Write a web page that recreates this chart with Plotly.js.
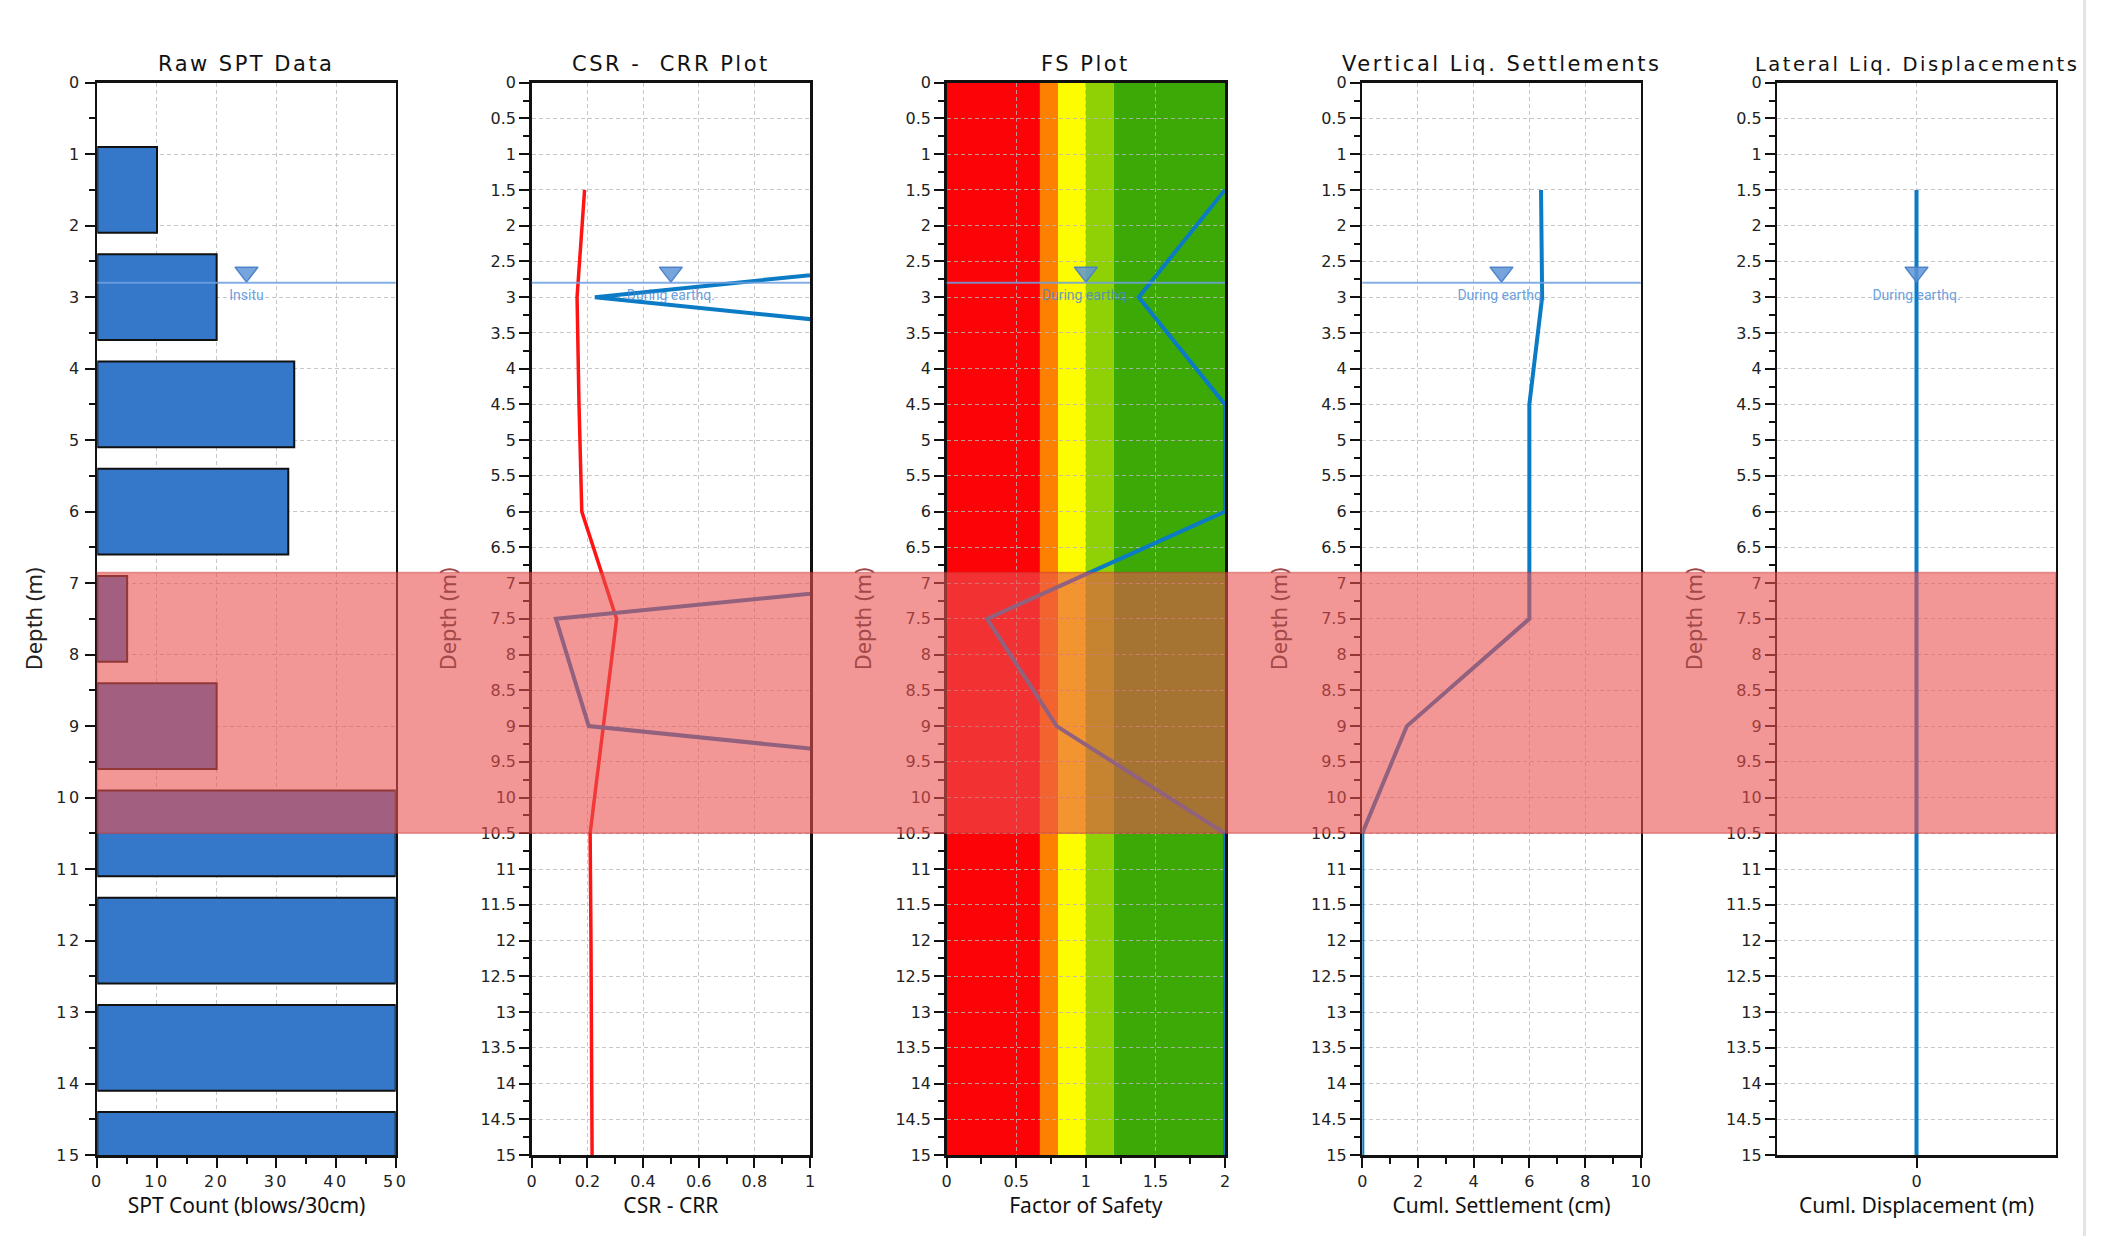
<!DOCTYPE html>
<html><head><meta charset="utf-8">
<script src="https://cdn.plot.ly/plotly-3.0.1.min.js"></script>
<style>
body{margin:0;background:#fff;}
#wrap{position:relative;width:2105px;height:1236px;overflow:hidden;background:#fff;}
#plot{position:absolute;left:0;top:0;width:2084px;height:1236px;}
.edge{position:absolute;top:0;width:3px;height:1236px;background:#e4e4e4;}
.xtick text,.ytick text{letter-spacing:2.5px;}
.annotation-text{letter-spacing:2.5px;}
</style></head>
<body>
<div id="wrap"><div class="edge" style="left:4px"></div><div id="plot"></div><div class="edge" style="left:2083px"></div></div>
<script>
// ---- data ----
const depth = [1.5, 3, 4.5, 6, 7.5, 9, 10.5, 12, 13.5, 15];
const sptCount = [10, 20, 33, 32, 5, 20, 50, 50, 50, 50];
const csr = [0.19, 0.163, 0.17, 0.18, 0.305, 0.258, 0.21, 0.213, 0.215, 0.217];
const crr = [4, 0.227, 4, 4, 0.087, 0.205, 4, 4, 4, 4];
const fs = [2, 1.38, 2, 2, 0.29, 0.79, 2, 2, 2, 2];
const settlement = [6.42, 6.46, 6.0, 6.0, 6.0, 1.6, 0, 0, 0, 0];
const displacement = [0, 0, 0, 0, 0, 0, 0, 0, 0, 0];
const waterDepth = 2.8;
const liqTop = 6.85, liqBottom = 10.5;
const fsBandEdges = [0, 0.67, 0.8, 1.0, 1.2, 2];
const fsBandColors = ['#fc0308', '#fe8002', '#fdfd00', '#8fd104', '#3ca907'];
const plotTitles = ['Raw SPT Data', 'CSR -  CRR Plot', 'FS Plot', 'Vertical Liq. Settlements', 'Lateral Liq. Displacements'];
const xTitles = ['SPT Count (blows/30cm)', 'CSR - CRR', 'Factor of Safety', 'Cuml. Settlement (cm)', 'Cuml. Displacement (m)'];
const waterLabels = ['Insitu', 'During earthq.', 'During earthq.', 'During earthq.', 'During earthq.'];
const waterLabelX = [25, 0.5, 1, 5, 0];
const xRanges = [[0, 50], [0, 1], [0, 2], [0, 10], [-1, 1]];
const xDticks = [10, 0.2, 0.5, 2, null];
const xMinor = [5, 0.1, 0.25, 1, null];

// ---- layout geometry (px) ----
const W = 2084, H = 1236;
const plotLeft = [97.3, 531.7, 946.7, 1362.3, 1777.3];
const plotRight = [395.7, 810, 1225, 1640.7, 2055.7];
const plotTop = 82.7, plotBottom = 1155;
const yDom = [1 - plotBottom / H, 1 - plotTop / H];
const triLift = 0.15, labelDrop = 0.1;
const titleSizes = [21, 21, 21, 21, 19.5];

const ink = '#111';
const gridCol = 'rgba(185,185,185,0.8)';
const tickFont = {family: 'DejaVu Sans', size: 16, color: '#222'};

const layout = {
  width: W, height: H, margin: {l: 0, r: 0, t: 0, b: 0},
  paper_bgcolor: '#fff', plot_bgcolor: '#fff', showlegend: false, hovermode: false,
  shapes: [], annotations: []
};

for (let i = 0; i < 5; i++) {
  const sx = i === 0 ? '' : String(i + 1);
  const xa = {
    domain: [plotLeft[i] / W, plotRight[i] / W], anchor: 'y' + sx,
    range: xRanges[i], autorange: false,
    showline: true, mirror: true, linecolor: ink, linewidth: 2.5,
    ticks: 'outside', ticklen: 10, tickwidth: 2, tickcolor: ink,
    showgrid: true, gridcolor: gridCol, griddash: '4px,3px', gridwidth: 1,
    zeroline: false, tickfont: tickFont,
    title: {text: xTitles[i], font: {family: 'Noto Sans', size: 21, color: '#111'}, standoff: 8}
  };
  if (xDticks[i] !== null) {
    xa.tick0 = 0; xa.dtick = xDticks[i];
    xa.minor = {dtick: xMinor[i], ticks: 'outside', ticklen: 6, tickwidth: 2, tickcolor: ink, showgrid: false};
  } else {
    xa.tickmode = 'array'; xa.tickvals = [0]; xa.ticktext = ['0'];
  }
  const ya = {
    domain: yDom, anchor: 'x' + sx, range: [15, 0], autorange: false,
    showline: true, mirror: true, linecolor: ink, linewidth: 2.5,
    ticks: 'outside', ticklen: 10, tickwidth: 2, tickcolor: ink,
    tick0: 0, dtick: i === 0 ? 1 : 0.5,
    minor: {dtick: i === 0 ? 0.5 : 0.25, ticks: 'outside', ticklen: 6, tickwidth: 2, tickcolor: ink, showgrid: false},
    showgrid: true, gridcolor: gridCol, griddash: '4px,3px', gridwidth: 1,
    zeroline: false, tickfont: tickFont,
    title: {text: 'Depth (m)', font: {family: 'Noto Sans', size: 22, color: i === 0 ? '#222' : '#a34848'}, standoff: i === 0 ? 8 : 18}
  };
  layout['xaxis' + sx] = xa;
  layout['yaxis' + sx] = ya;

  layout.annotations.push({
    xref: 'paper', yref: 'paper', x: (plotLeft[i] + plotRight[i]) / 2 / W, y: yDom[1],
    xanchor: 'center', yanchor: 'bottom', yshift: 5, showarrow: false,
    text: plotTitles[i], font: {family: 'DejaVu Sans', size: titleSizes[i], color: '#111'}
  });

  if (i < 4) {
    layout.shapes.push({
      type: 'line', xref: 'x' + sx + ' domain', yref: 'y' + sx, x0: 0, x1: 1,
      y0: waterDepth, y1: waterDepth, layer: 'above',
      line: {color: 'rgba(110,160,225,0.85)', width: 2}
    });
  }
}

// FS colour bands
for (let k = 0; k < fsBandColors.length; k++) {
  layout.shapes.push({
    type: 'rect', xref: 'x3', yref: 'y3 domain', x0: fsBandEdges[k], x1: fsBandEdges[k + 1], y0: 0, y1: 1,
    fillcolor: fsBandColors[k], line: {width: 0}, layer: 'below'
  });
}

// liquefiable layer band across all panels
layout.shapes.push({
  type: 'rect', xref: 'paper', yref: 'y', x0: plotLeft[0] / W, x1: plotRight[4] / W,
  y0: liqTop, y1: liqBottom, fillcolor: 'rgba(235,80,80,0.6)',
  line: {color: 'rgba(200,50,50,0.45)', width: 1.5}, layer: 'above'
});

const traces = [
  {type: 'bar', orientation: 'h', x: sptCount, y: depth, width: 1.2, xaxis: 'x', yaxis: 'y',
   marker: {color: '#3577c8', line: {color: ink, width: 2}}},
  {type: 'scatter', mode: 'lines', x: csr, y: depth, xaxis: 'x2', yaxis: 'y2',
   line: {color: '#ff1414', width: 3.5}},
  {type: 'scatter', mode: 'lines', x: crr, y: depth, xaxis: 'x2', yaxis: 'y2',
   line: {color: '#0a7bc4', width: 4}},
  {type: 'scatter', mode: 'lines', x: fs, y: depth, xaxis: 'x3', yaxis: 'y3',
   line: {color: '#0a7bc4', width: 4}},
  {type: 'scatter', mode: 'lines', x: settlement, y: depth, xaxis: 'x4', yaxis: 'y4',
   line: {color: '#0a7bc4', width: 4}},
  {type: 'scatter', mode: 'lines', x: displacement, y: depth, xaxis: 'x5', yaxis: 'y5',
   line: {color: '#0a7bc4', width: 4}}
];

for (let i = 0; i < 5; i++) {
  const sx = i === 0 ? '' : String(i + 1);
  traces.push({
    type: 'scatter', mode: 'markers', x: [waterLabelX[i]], y: [waterDepth - triLift],
    xaxis: 'x' + sx, yaxis: 'y' + sx, cliponaxis: false,
    marker: {symbol: 'triangle-down', size: 20, color: 'rgba(95,148,215,0.85)', line: {color: 'rgba(70,125,200,0.9)', width: 1.5}}
  });
  traces.push({
    type: 'scatter', mode: 'text', x: [waterLabelX[i]], y: [waterDepth + labelDrop], text: [waterLabels[i]],
    textposition: 'bottom center', xaxis: 'x' + sx, yaxis: 'y' + sx, cliponaxis: false,
    textfont: {family: 'Roboto', size: 14, color: 'rgba(70,135,215,0.8)'}
  });
}

Plotly.newPlot('plot', traces, layout, {staticPlot: true, displayModeBar: false});
</script>
</body></html>
